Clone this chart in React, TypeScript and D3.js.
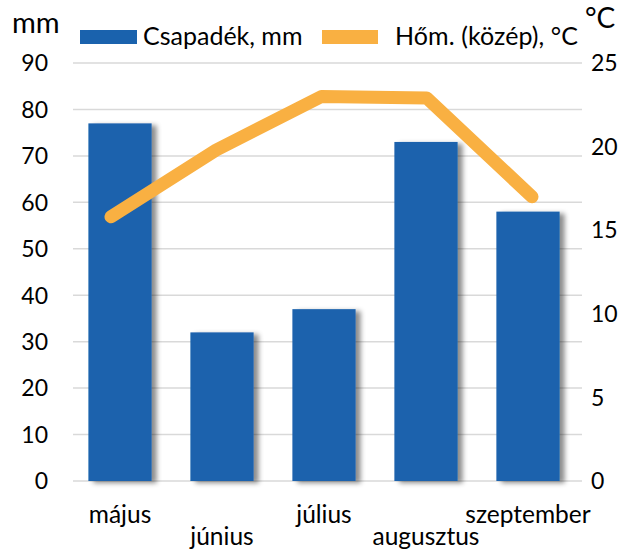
import * as d3 from "d3";
import React from "react";

const months = ["május", "június", "július", "augusztus", "szeptember"];
const precipitation = [77, 32, 37, 73, 58];
const temperature = [15.8, 19.8, 23.0, 22.9, 17.0];
const mmTicks = [0, 10, 20, 30, 40, 50, 60, 70, 80, 90];
const tempTicks = [0, 5, 10, 15, 20, 25];

const width = 629;
const height = 554;
const font = "Lato, 'Noto Sans', sans-serif";

export default function App() {
  const x = d3.scaleBand().domain(months).range([68, 580]).paddingInner(0.38).paddingOuter(0.2);
  // the temperature line sits a little left of the bar centres in the original
  const xLine = d3.scalePoint().domain(months).range([111, 532]);
  const yLeft = d3.scaleLinear().domain([0, 90]).range([481, 63]);
  const yRight = d3.scaleLinear().domain([0, 25]).range([481, 63]);

  const line = d3
    .line<number>()
    .x((_, i) => xLine(months[i]) as number)
    .y((d) => yRight(d));

  return (
    <svg width={width} height={height} style={{ position: "absolute", left: 0, top: 0 }}>
      <defs>
        <filter id="shadow" x="-20%" y="-10%" width="150%" height="130%">
          <feDropShadow dx="5" dy="2" stdDeviation="2.5" floodColor="#000" floodOpacity="0.45" />
        </filter>
      </defs>
      <rect width={width} height={height} fill="#fff" />

      {mmTicks.map((t) => (
        <g key={t}>
          <line x1={73} x2={582} y1={yLeft(t)} y2={yLeft(t)} stroke="#d9d9d9" strokeWidth={1.5} />
          <text x={48} y={yLeft(t)} dy="0.36em" textAnchor="end" fontFamily={font} fontSize={23} fill="#000">
            {t}
          </text>
        </g>
      ))}
      {tempTicks.map((t) => (
        <text key={t} x={591} y={yRight(t)} dy="0.36em" textAnchor="start" fontFamily={font} fontSize={23} fill="#000">
          {t}
        </text>
      ))}

      {precipitation.map((v, i) => (
        <rect
          key={months[i]}
          x={x(months[i])}
          y={yLeft(v)}
          width={x.bandwidth()}
          height={yLeft(0) - yLeft(v)}
          fill="#1a62ad"
          filter="url(#shadow)"
        />
      ))}

      <path
        d={line(temperature) || ""}
        fill="none"
        stroke="#f9b042"
        strokeWidth={13}
        strokeLinecap="round"
        strokeLinejoin="round"
      />

      {months.map((m, i) => (
        <text
          key={m}
          x={(x(m) as number) + x.bandwidth() / 2}
          y={i % 2 === 0 ? 523 : 545}
          textAnchor="middle"
          fontFamily={font}
          fontSize={24.5}
          fill="#000"
        >
          {m}
        </text>
      ))}

      <text x={12} y={33} fontFamily={font} fontSize={29} fill="#000">mm</text>
      <text x={585} y={28} fontFamily={font} fontSize={28} fill="#000">°C</text>

      <rect x={80} y={30} width={57} height={14} fill="#1a62ad" />
      <text x={143} y={45} fontFamily={font} fontSize={25} fill="#000">Csapadék, mm</text>
      <rect x={322} y={30} width={56} height={14} fill="#f9b042" />
      <text x={395} y={45} fontFamily={font} fontSize={25} textLength={183} fill="#000">Hőm. (közép), °C</text>
    </svg>
  );
}
